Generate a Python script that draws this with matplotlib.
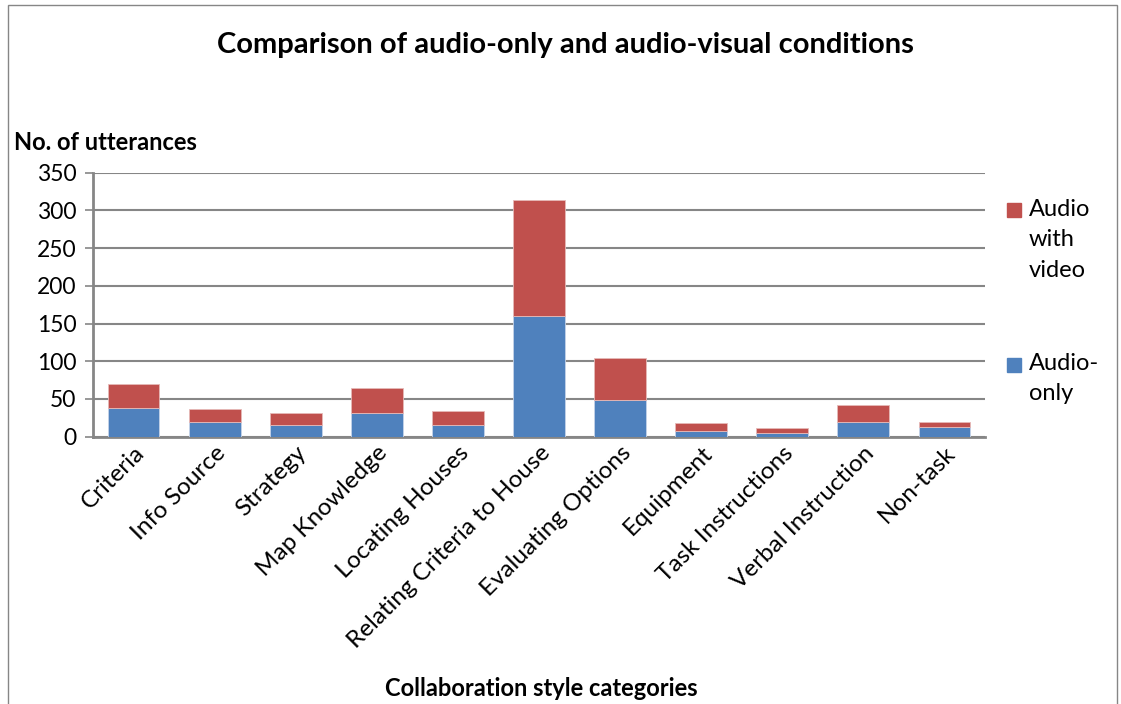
import numpy as np
import matplotlib.pyplot as plt
from matplotlib.patches import Rectangle

plt.rcParams['font.family'] = ['Lato', 'DejaVu Sans']

categories = ['Criteria', 'Info Source', 'Strategy', 'Map Knowledge', 'Locating Houses',
              'Relating Criteria to House', 'Evaluating Options', 'Equipment',
              'Task Instructions', 'Verbal Instruction', 'Non-task']
audio_only = [38, 20, 15, 31, 15, 160, 48, 8, 5, 20, 13]
audio_video = [32, 17, 17, 34, 19, 154, 56, 10, 6, 22, 7]

blue = '#4F81BD'
red = '#C0504D'
grey = '#868686'

fig = plt.figure(figsize=(11.21, 7.04), dpi=100)
ax = fig.add_axes([93 / 1121, 1 - 436.7 / 704, 892 / 1121, 264 / 704])

x = np.arange(len(categories))
ax.bar(x, audio_only, width=0.64, color=blue, edgecolor='#c5d3e8', linewidth=0.6,
       label='Audio-\nonly', zorder=3)
ax.bar(x, audio_video, width=0.64, bottom=audio_only, color=red, edgecolor='#e6b9b8',
       linewidth=0.6, label='Audio\nwith\nvideo', zorder=3)

ax.set_xlim(-0.5, len(categories) - 0.5)
ax.set_ylim(0, 350)
ax.set_yticks(range(0, 351, 50))
ax.yaxis.grid(True, color=grey, linewidth=1.5, zorder=0)
ax.tick_params(axis='y', labelsize=16.5, length=6, width=1.2, color=grey, pad=6)
ax.tick_params(axis='x', length=0, labelsize=17.5, pad=4)
ax.set_xticks(x)
ax.set_xticklabels(categories, rotation=45, ha='right', rotation_mode='anchor')
for side in ['top', 'right']:
    ax.spines[side].set_visible(False)
for side in ['left', 'bottom']:
    ax.spines[side].set_color(grey)
    ax.spines[side].set_linewidth(2)

fig.text(565 / 1121, 1 - 45 / 704, 'Comparison of audio-only and audio-visual conditions',
         ha='center', va='center', fontsize=21, fontweight='bold')
fig.text(14 / 1121, 1 - 143 / 704, 'No. of utterances', ha='left', va='center',
         fontsize=17, fontweight='bold')
fig.text(541 / 1121, 1 - 688 / 704, 'Collaboration style categories', ha='center',
         va='center', fontsize=17, fontweight='bold')

# legend drawn as in the original (red on top, blue lower)
fig.patches.append(Rectangle((1007 / 1121, 1 - 217 / 704), 14 / 1121, 14 / 704,
                             transform=fig.transFigure, color=red))
fig.text(1029 / 1121, 1 - 199 / 704, 'Audio\nwith\nvideo', ha='left', va='top',
         fontsize=17, linespacing=1.55)
fig.patches.append(Rectangle((1007 / 1121, 1 - 372 / 704), 14 / 1121, 14 / 704,
                             transform=fig.transFigure, color=blue))
fig.text(1029 / 1121, 1 - 353 / 704, 'Audio-\nonly', ha='left', va='top',
         fontsize=17, linespacing=1.55)

# chart border
fig.patches.append(Rectangle((8 / 1121, -0.01), (1117 - 8) / 1121, 1 - 5 / 704 + 0.01,
                             transform=fig.transFigure, fill=False, edgecolor=grey,
                             linewidth=1))

fig.savefig('out.png', dpi=100)
